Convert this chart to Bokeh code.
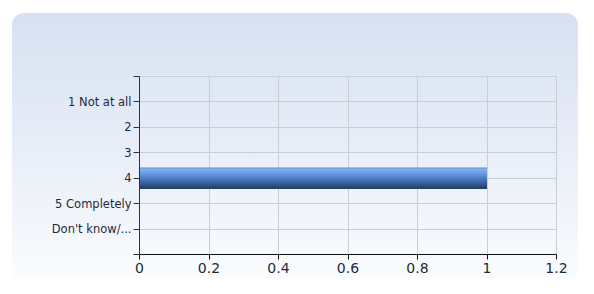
from bokeh.plotting import figure
from bokeh.models import Range1d, FixedTicker, CustomJSTickFormatter, ColumnDataSource
from bokeh.embed import file_html
from bokeh.resources import INLINE

# ---- data ----
categories = ["1 Not at all", "2", "3", "4", "5 Completely", "Don't know/..."]
values = [0, 0, 0, 1, 0, 0]
x_ticks = [0, 0.2, 0.4, 0.6, 0.8, 1.0, 1.2]

FONT = "DejaVu Sans"

p = figure(width=578, height=278, output_backend="svg", toolbar_location=None,
           x_range=Range1d(0, 1.2), y_range=Range1d(len(categories) + 1, 0),
           min_border_left=139, min_border_right=22, min_border_top=76, min_border_bottom=24)
p.styles = {
    "background": "linear-gradient(to bottom, #d5e0f0 0%, #e3eaf6 40%, #f2f5fb 80%, #fbfcfe 100%)",
    "clip-path": "inset(13px 0px 0px 12px round 12px 12px 6px 6px)",
}
p.border_fill_color = None
p.background_fill_color = None
p.outline_line_color = "#c9cdd4"
p.outline_line_width = 1

# gradient bar built from thin strips
ys = [i + 1 for i in range(len(categories))]
bar_h = 0.82
stops = [(0.0, (0x4d, 0x6e, 0xa6)), (0.06, (0x86, 0xb4, 0xf2)), (0.3, (0x66, 0x98, 0xe2)),
         (0.55, (0x4b, 0x78, 0xbf)), (0.8, (0x36, 0x59, 0x92)), (1.0, (0x26, 0x3e, 0x66))]

def col_at(t):
    for (t0, c0), (t1, c1) in zip(stops[:-1], stops[1:]):
        if t0 <= t <= t1:
            f = (t - t0) / (t1 - t0) if t1 > t0 else 0
            return "#%02x%02x%02x" % tuple(int(round(a + (b - a) * f)) for a, b in zip(c0, c1))
    return "#%02x%02x%02x" % stops[-1][1]

n = 21
sh = bar_h / n
for k in range(n):
    t = (k + 0.5) / n
    off = -bar_h / 2 + (k + 0.5) * sh
    src = ColumnDataSource(dict(y=[y + off for y in ys], right=values))
    p.hbar(y="y", right="right", left=0, height=sh * 1.6, source=src,
           fill_color=col_at(t), line_color=None)

# axes
p.xaxis.ticker = FixedTicker(ticks=x_ticks)
p.xaxis.formatter = CustomJSTickFormatter(code="return Number(tick.toFixed(1)).toString();")
p.yaxis.ticker = FixedTicker(ticks=list(range(0, len(categories) + 2)))
overrides = {i + 1: c for i, c in enumerate(categories)}
overrides[0] = ""
overrides[len(categories) + 1] = ""
p.yaxis.major_label_overrides = overrides

p.xaxis.major_label_text_font = FONT
p.xaxis.major_label_text_font_size = "14px"
p.xaxis.major_label_text_color = "#1e2a3a"
p.xaxis.axis_line_color = "#111111"
p.xaxis.major_tick_line_color = "#111111"
p.xaxis.major_tick_in = 0
p.xaxis.major_tick_out = 5
p.xaxis.minor_tick_line_color = None
p.xaxis.major_label_standoff = 3

p.yaxis.major_label_text_font = FONT
p.yaxis.major_label_text_font_size = "11.5px"
p.yaxis.major_label_text_color = "#1e2a3a"
p.yaxis.axis_line_color = "#333333"
p.yaxis.major_tick_line_color = "#333333"
p.yaxis.major_tick_in = 0
p.yaxis.major_tick_out = 6
p.yaxis.minor_tick_line_color = None
p.yaxis.major_label_standoff = 2

p.xgrid.grid_line_color = "#c9cdd4"
p.ygrid.grid_line_color = "#c9cdd4"

open("out.html", "w").write(file_html(p, INLINE))
